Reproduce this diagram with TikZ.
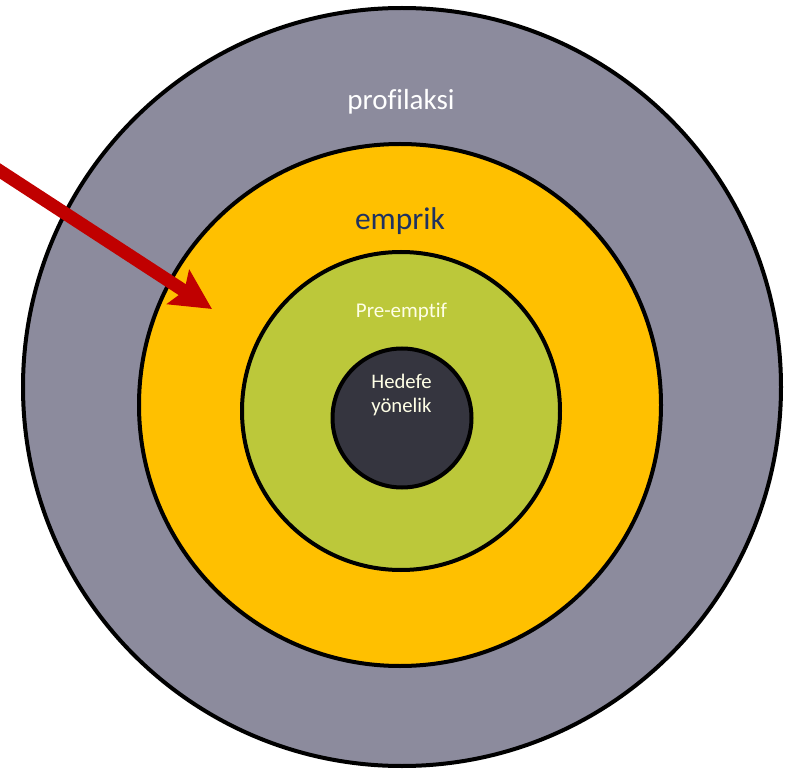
\documentclass[tikz,border=0pt]{standalone}
\usepackage{fontspec}
\setmainfont[Ligatures=CommonOff]{Carlito}
\usetikzlibrary{arrows.meta}
\definecolor{ringgrey}{RGB}{140,139,157}
\definecolor{ringorange}{RGB}{255,192,0}
\definecolor{ringgreen}{RGB}{188,200,58}
\definecolor{ringdark}{RGB}{53,53,63}
\definecolor{navytext}{RGB}{31,50,96}
\definecolor{creamtext}{RGB}{255,255,230}
\definecolor{arrowred}{RGB}{192,0,0}
\tikzset{
  ring/.style={circle, draw=black, line width=4pt, inner sep=0pt},
  lbl/.style={anchor=base, inner sep=0pt}
}
\begin{document}
\begin{tikzpicture}[x=1pt,y=-1pt]
\useasboundingbox (0,0) rectangle (796,770);
\clip (0,0) rectangle (796,770);
\node[ring, fill=ringgrey, minimum size=758pt] (outer) at (402,387) {};
\node[ring, fill=ringorange, minimum size=522pt] (mid) at (400,405) {};
\node[ring, fill=ringgreen, minimum size=318pt] (inner) at (401,411) {};
\node[ring, fill=ringdark, minimum size=139pt] (core) at (402,418) {};
\node[lbl, text=white, font=\fontsize{29}{34}\selectfont] (tprof) at (401,110) {profilaksi};
\node[lbl, text=navytext, font=\fontsize{31.5}{36}\selectfont] (temp) at (400,230) {emprik};
\node[lbl, text=creamtext, font=\fontsize{21}{25}\selectfont] (tpre) at (401.5,318) {Pre-emptif};
\node[lbl, text=creamtext, align=center, font=\fontsize{20.7}{24}\selectfont] (thed) at (401.5,412) {Hedefe\\yönelik};
\coordinate (astart) at (-20,158);
\coordinate (atip) at (212,309);
\draw[arrowred, line width=13pt, -{Stealth[length=40pt,width=40pt,inset=7pt]}] (astart) -- (atip);
\end{tikzpicture}
\end{document}
